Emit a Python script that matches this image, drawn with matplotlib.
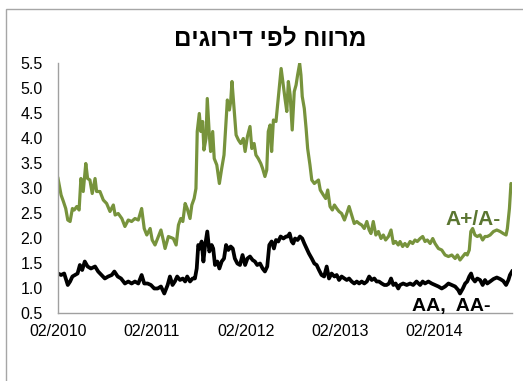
import matplotlib
matplotlib.use("Agg")
import matplotlib.pyplot as plt
import matplotlib.dates as mdates
import matplotlib.patches as mpatches
import pandas as pd

plt.rcParams['font.family'] = ['Liberation Sans', 'DejaVu Sans']

title_text = "מרווח לפי דירוגים"
label_a = "A+/A-"
label_aa = "AA,  AA-"

a_dates = [
    "2010-02-01", "2010-02-13", "2010-02-22", "2010-03-03", "2010-03-11", "2010-03-20", "2010-03-29",
    "2010-04-05", "2010-04-15", "2010-04-24", "2010-05-01", "2010-05-10", "2010-05-20", "2010-05-27",
    "2010-06-05", "2010-06-14", "2010-06-25", "2010-07-01", "2010-07-14", "2010-07-27", "2010-08-09",
    "2010-08-22", "2010-09-04", "2010-09-11", "2010-09-23", "2010-10-07", "2010-10-19", "2010-11-01",
    "2010-11-14", "2010-11-27", "2010-12-10", "2010-12-23", "2011-01-02", "2011-01-12", "2011-01-25",
    "2011-02-02", "2011-02-13", "2011-02-26", "2011-03-08", "2011-03-17", "2011-03-24", "2011-04-06",
    "2011-04-25", "2011-05-06", "2011-05-15", "2011-05-24", "2011-06-01", "2011-06-10", "2011-06-18",
    "2011-06-29", "2011-07-06", "2011-07-15", "2011-07-22", "2011-07-27", "2011-08-04", "2011-08-10",
    "2011-08-17", "2011-08-22", "2011-08-30", "2011-09-04", "2011-09-12", "2011-09-17", "2011-09-25",
    "2011-10-01", "2011-10-11", "2011-10-21", "2011-10-30", "2011-11-08", "2011-11-16", "2011-11-21",
    "2011-11-29", "2011-12-04", "2011-12-09", "2011-12-17", "2011-12-25", "2012-01-03", "2012-01-12",
    "2012-01-22", "2012-01-29", "2012-02-07", "2012-02-17", "2012-02-24", "2012-03-04", "2012-03-11",
    "2012-03-20", "2012-03-30", "2012-04-06", "2012-04-15", "2012-04-22", "2012-04-28", "2012-05-05",
    "2012-05-11", "2012-05-18", "2012-05-28", "2012-06-02", "2012-06-10", "2012-06-17", "2012-06-26",
    "2012-07-02", "2012-07-09", "2012-07-15", "2012-07-22", "2012-07-30", "2012-08-07", "2012-08-14",
    "2012-08-20", "2012-08-28", "2012-09-02", "2012-09-07", "2012-09-15", "2012-09-22", "2012-09-28",
    "2012-10-07", "2012-10-14", "2012-10-24", "2012-11-02", "2012-11-09", "2012-11-16", "2012-11-28",
    "2012-12-07", "2012-12-15", "2012-12-24", "2013-01-02", "2013-01-10", "2013-01-19", "2013-01-28",
    "2013-02-07", "2013-02-18", "2013-02-27", "2013-03-08", "2013-03-18", "2013-03-28", "2013-04-07",
    "2013-04-16", "2013-04-26", "2013-05-06", "2013-05-16", "2013-05-25", "2013-06-01", "2013-06-10",
    "2013-06-20", "2013-06-30", "2013-07-10", "2013-07-19", "2013-07-28", "2013-08-08", "2013-08-18",
    "2013-08-27", "2013-09-05", "2013-09-15", "2013-09-22", "2013-10-02", "2013-10-11", "2013-10-20",
    "2013-10-31", "2013-11-10", "2013-11-19", "2013-11-28", "2013-12-09", "2013-12-19", "2013-12-28",
    "2014-01-06", "2014-01-17", "2014-01-27", "2014-02-05", "2014-02-18", "2014-03-03", "2014-03-16",
    "2014-03-29", "2014-04-11", "2014-04-24", "2014-05-03", "2014-05-13", "2014-05-24", "2014-06-02",
    "2014-06-10", "2014-06-18", "2014-06-24", "2014-07-01", "2014-07-10", "2014-07-19", "2014-07-30",
    "2014-08-09", "2014-08-18", "2014-08-27", "2014-09-07", "2014-09-20", "2014-10-03", "2014-10-16",
    "2014-10-28", "2014-11-08", "2014-11-13", "2014-11-21", "2014-11-27", "2014-12-01",
]
a_values = [
    3.19, 2.86, 2.73, 2.59, 2.36, 2.33, 2.59,
    2.56, 2.63, 2.56, 3.19, 2.93, 3.49, 3.19,
    3.16, 2.89, 3.19, 2.93, 2.93, 2.76, 2.69,
    2.53, 2.66, 2.46, 2.49, 2.39, 2.23, 2.36,
    2.33, 2.39, 2.36, 2.59, 2.19, 2.06, 2.19,
    1.96, 1.86, 2.03, 2.16, 1.96, 1.79, 2.03,
    1.99, 1.86, 2.26, 2.39, 2.33, 2.69, 2.59,
    2.39, 2.66, 2.79, 2.99, 4.13, 4.49, 4.13,
    4.33, 3.76, 3.99, 4.79, 4.06, 3.73, 4.13,
    3.59, 3.46, 3.09, 3.39, 3.66, 4.33, 4.76,
    4.56, 4.73, 5.13, 4.59, 4.06, 3.96, 3.89,
    3.99, 3.73, 4.03, 4.23, 3.79, 3.89, 3.66,
    3.59, 3.49, 3.39, 3.23, 3.36, 4.13, 4.26,
    3.73, 4.36, 4.33, 4.59, 4.99, 5.39, 5.03,
    4.79, 4.53, 5.13, 4.86, 4.16, 4.93, 5.06,
    5.26, 5.49, 5.26, 4.83, 4.59, 4.19, 3.79,
    3.46, 3.16, 3.09, 3.13, 3.16, 2.96, 2.86,
    2.79, 2.96, 2.63, 2.56, 2.66, 2.59, 2.53,
    2.49, 2.36, 2.49, 2.63, 2.46, 2.29, 2.33,
    2.29, 2.26, 2.19, 2.33, 2.16, 2.09, 2.33,
    2.06, 2.13, 1.99, 2.06, 1.96, 2.03, 2.16,
    1.89, 1.93, 1.86, 1.93, 1.83, 1.89, 1.83,
    1.93, 1.89, 1.96, 1.93, 1.99, 2.03, 1.93,
    1.96, 1.89, 1.99, 1.89, 1.79, 1.76, 1.66,
    1.63, 1.66, 1.59, 1.66, 1.56, 1.63, 1.69,
    1.66, 1.76, 2.13, 2.19, 2.06, 2.03, 2.06,
    1.96, 2.03, 2.03, 2.06, 2.13, 2.16, 2.13,
    2.09, 2.06, 2.19, 2.59, 3.09, 3.06,
]

aa_dates = [
    "2010-02-01", "2010-02-13", "2010-02-25", "2010-03-11", "2010-03-20", "2010-03-29", "2010-04-08",
    "2010-04-18", "2010-04-27", "2010-05-06", "2010-05-16", "2010-05-27", "2010-06-09", "2010-06-25",
    "2010-07-07", "2010-07-20", "2010-08-02", "2010-08-15", "2010-08-29", "2010-09-08", "2010-09-21",
    "2010-10-04", "2010-10-19", "2010-11-01", "2010-11-14", "2010-11-27", "2010-12-10", "2010-12-23",
    "2011-01-02", "2011-01-15", "2011-01-28", "2011-02-10", "2011-02-23", "2011-03-08", "2011-03-21",
    "2011-04-03", "2011-04-12", "2011-04-22", "2011-05-01", "2011-05-10", "2011-05-21", "2011-06-01",
    "2011-06-10", "2011-06-18", "2011-06-29", "2011-07-09", "2011-07-18", "2011-07-25", "2011-07-31",
    "2011-08-07", "2011-08-13", "2011-08-20", "2011-08-26", "2011-09-04", "2011-09-12", "2011-09-21",
    "2011-09-27", "2011-10-04", "2011-10-13", "2011-10-21", "2011-10-30", "2011-11-08", "2011-11-16",
    "2011-11-25", "2011-12-04", "2011-12-12", "2011-12-20", "2011-12-30", "2012-01-09", "2012-01-19",
    "2012-01-29", "2012-02-07", "2012-02-17", "2012-02-27", "2012-03-07", "2012-03-16", "2012-03-27",
    "2012-04-06", "2012-04-15", "2012-04-24", "2012-05-02", "2012-05-11", "2012-05-20", "2012-05-28",
    "2012-06-06", "2012-06-15", "2012-06-26", "2012-07-06", "2012-07-13", "2012-07-20", "2012-07-28",
    "2012-08-03", "2012-08-10", "2012-08-20", "2012-08-29", "2012-09-07", "2012-09-15", "2012-09-24",
    "2012-10-03", "2012-10-14", "2012-10-24", "2012-11-02", "2012-11-11", "2012-11-21", "2012-12-01",
    "2012-12-11", "2012-12-20", "2012-12-30", "2013-01-10", "2013-01-19", "2013-01-28", "2013-02-07",
    "2013-02-18", "2013-02-27", "2013-03-08", "2013-03-18", "2013-03-28", "2013-04-07", "2013-04-16",
    "2013-04-26", "2013-05-06", "2013-05-16", "2013-05-25", "2013-06-04", "2013-06-14", "2013-06-23",
    "2013-07-02", "2013-07-13", "2013-07-23", "2013-08-01", "2013-08-10", "2013-08-18", "2013-08-27",
    "2013-09-05", "2013-09-15", "2013-09-22", "2013-10-04", "2013-10-18", "2013-10-31", "2013-11-12",
    "2013-11-25", "2013-12-09", "2013-12-19", "2013-12-28", "2014-01-10", "2014-01-23", "2014-02-05",
    "2014-02-18", "2014-03-03", "2014-03-16", "2014-03-29", "2014-04-11", "2014-04-24", "2014-05-06",
    "2014-05-13", "2014-05-24", "2014-06-02", "2014-06-10", "2014-06-18", "2014-06-25", "2014-07-01",
    "2014-07-10", "2014-07-19", "2014-07-30", "2014-08-09", "2014-08-18", "2014-08-27", "2014-09-07",
    "2014-09-20", "2014-10-03", "2014-10-16", "2014-10-28", "2014-11-08", "2014-11-17", "2014-11-23",
    "2014-12-01",
]
aa_values = [
    1.29, 1.26, 1.29, 1.06, 1.13, 1.23, 1.26,
    1.29, 1.46, 1.36, 1.53, 1.43, 1.39, 1.43,
    1.33, 1.26, 1.19, 1.23, 1.26, 1.33, 1.23,
    1.19, 1.09, 1.13, 1.09, 1.13, 1.09, 1.26,
    1.09, 1.09, 1.06, 0.99, 0.99, 1.03, 0.89,
    1.06, 1.23, 1.06, 1.13, 1.23, 1.16, 1.19,
    1.13, 1.23, 1.13, 1.19, 1.19, 1.39, 1.86,
    1.79, 1.93, 1.53, 1.83, 2.13, 1.73, 1.86,
    1.79, 1.46, 1.53, 1.39, 1.53, 1.59, 1.86,
    1.76, 1.83, 1.79, 1.59, 1.49, 1.46, 1.66,
    1.46, 1.59, 1.63, 1.56, 1.53, 1.46, 1.49,
    1.39, 1.33, 1.43, 1.86, 1.93, 1.79, 1.96,
    1.93, 2.03, 1.99, 2.03, 2.03, 2.09, 1.93,
    1.89, 1.99, 1.96, 2.03, 1.99, 1.89, 1.79,
    1.69, 1.59, 1.49, 1.46, 1.36, 1.26, 1.23,
    1.43, 1.19, 1.29, 1.23, 1.26, 1.16, 1.23,
    1.19, 1.16, 1.19, 1.13, 1.09, 1.13, 1.09,
    1.13, 1.09, 1.13, 1.23, 1.16, 1.19, 1.13,
    1.13, 1.09, 1.06, 1.06, 1.09, 1.19, 1.06,
    1.09, 0.99, 1.06, 1.09, 1.06, 1.09, 1.06,
    1.13, 1.06, 1.13, 1.09, 1.13, 1.09, 1.06,
    1.03, 0.99, 1.03, 1.09, 1.06, 1.03, 0.96,
    0.89, 0.99, 1.09, 1.13, 1.23, 1.29, 1.19,
    1.13, 1.19, 1.16, 1.06, 1.16, 1.09, 1.13,
    1.18, 1.21, 1.18, 1.14, 1.06, 1.16, 1.26,
    1.33,
]

x_ticks = ["2010-02-01", "2011-02-01", "2012-02-01", "2013-02-01", "2014-02-01"]
x_range = ["2010-02-01", "2014-12-01"]
y_ticks = [0.5, 1.0, 1.5, 2.0, 2.5, 3.0, 3.5, 4.0, 4.5, 5.0, 5.5]

fig = plt.figure(figsize=(5.23, 3.81), dpi=100)
fig.patch.set_facecolor("white")

# outer chart-area border (cut off at right and bottom)
border = mpatches.Rectangle((6 / 523, -0.2), 1.2, 0.2 + (1 - 9 / 381),
                            transform=fig.transFigure, fill=False,
                            edgecolor="#A6A6A6", linewidth=1.0)
fig.add_artist(border)

ax = fig.add_axes([58 / 523, 1 - 313 / 381, (512 - 58) / 523, (313 - 63) / 381])

green = "#77933C"
ax.plot(pd.to_datetime(a_dates), a_values, color=green, linewidth=2.3, solid_joinstyle="round")
ax.plot(pd.to_datetime(aa_dates), aa_values, color="black", linewidth=2.7, solid_joinstyle="round")

ax.set_xlim(pd.to_datetime(x_range[0]), pd.to_datetime(x_range[1]))
ax.set_ylim(y_ticks[0], y_ticks[-1])
ax.set_yticks(y_ticks)
ax.set_yticklabels([f"{v:.1f}" for v in y_ticks])
ax.set_xticks(pd.to_datetime(x_ticks))
ax.xaxis.set_major_formatter(mdates.DateFormatter("%m/%Y"))

for s in ["top", "right"]:
    ax.spines[s].set_visible(False)
for s in ["left", "bottom"]:
    ax.spines[s].set_color("#A0A0A0")
    ax.spines[s].set_linewidth(1.0)

ax.tick_params(axis="y", length=0, pad=11, labelsize=11.5, labelcolor="black")
ax.tick_params(axis="x", length=0, pad=8, labelsize=11.5, labelcolor="black")

fig.text(270 / 523, 1 - 39 / 381, title_text[::-1], ha="center", va="center",
         fontsize=17.5, fontweight="bold")

ax.text(pd.to_datetime("2014-03-16"), 2.26, label_a, color="#5A7530", fontsize=15,
        fontweight="bold", ha="left", va="baseline")
ax.text(pd.to_datetime("2013-11-06"), 0.53, label_aa, color="black", fontsize=14,
        fontweight="bold", ha="left", va="baseline")

fig.savefig("out.png", dpi=100)
